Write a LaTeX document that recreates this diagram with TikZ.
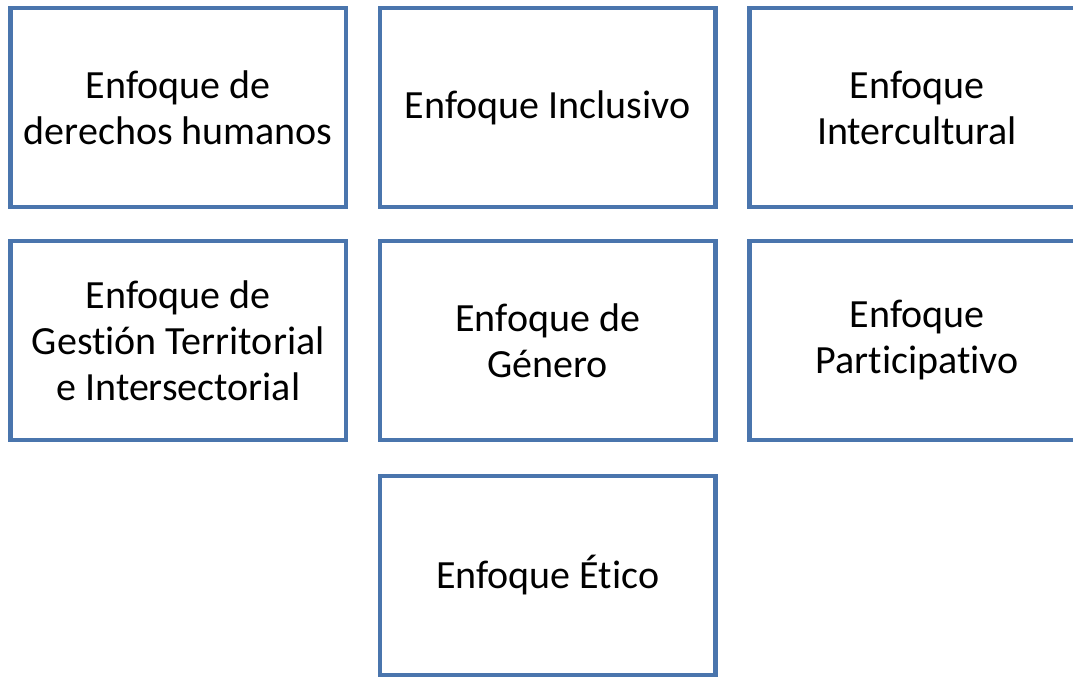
\documentclass[tikz,border=0pt]{standalone}
\usepackage{fontspec}
\setmainfont[Ligatures=NoCommon]{Carlito}
\usetikzlibrary{positioning}
\definecolor{boxblue}{RGB}{74,117,173}

\begin{document}
\begin{tikzpicture}[x=0.75pt,y=-0.75pt,node distance=25.5pt,
	enfoque/.style={draw=boxblue,line width=3.4pt,minimum width=251.6pt,minimum height=149.25pt,
		align=center,outer sep=0pt,font=\fontsize{30}{34.5}\selectfont}]
	
	\useasboundingbox (0,0) rectangle (1073,677);
	
	\node[enfoque] (ddhh) at (178.25,107.5) {Enfoque de\\derechos humanos};
	\node[enfoque] (incl) [right=of ddhh] {Enfoque Inclusivo};
	\node[enfoque] (inter) [right=of incl] {Enfoque\\Intercultural};
	
	\node[enfoque] (terr) [below=of ddhh] {Enfoque de\\Gestión Territorial\\e Intersectorial};
	\node[enfoque] (gen) [below=of incl] {Enfoque de\\Género};
	\node[enfoque] (part) [below=of inter] {Enfoque\\Participativo};
	
	\node[enfoque] (etico) [below=27pt of gen] {Enfoque Ético};
\end{tikzpicture}
\end{document}
